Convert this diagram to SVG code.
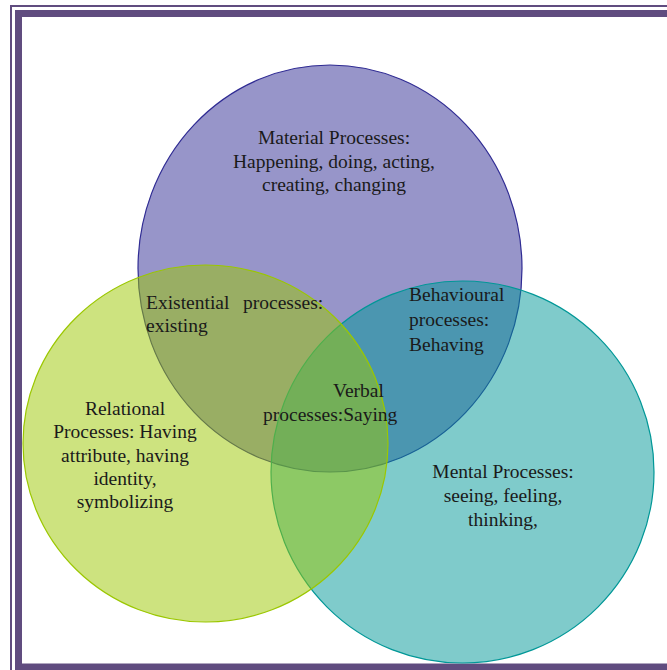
<svg xmlns="http://www.w3.org/2000/svg" width="667" height="670" viewBox="0 0 667 670">
<style>
  .lbl { font-family: "Liberation Serif", "Times New Roman", serif; font-size: 19.5px; fill: #1a1a1a; }
  .mid { text-anchor: middle; }
  .set { fill-opacity: 0.5; stroke-width: 1.2; }
</style>
<rect width="667" height="670" fill="#ffffff"/>
<g id="frame" fill="none" stroke="#604c7f">
  <rect x="11" y="6" width="700" height="700" stroke-width="2"/>
  <rect x="18.5" y="13.5" width="700" height="653.5" stroke-width="7"/>
</g>
<g id="material">
  <ellipse class="set" cx="330" cy="268.5" rx="192" ry="203.5" fill="#2f2b93" stroke="#2f2b93"/>
</g>
<g id="mental">
  <ellipse class="set" cx="462.5" cy="472" rx="191.5" ry="191" fill="#009797" stroke="#009797"/>
</g>
<g id="relational">
  <ellipse class="set" cx="205.5" cy="443.5" rx="182.5" ry="178.5" fill="#9bc700" stroke="#9bc700"/>
</g>
<g id="labels">
  <g id="material-label" class="lbl mid">
    <text x="334" y="144">Material Processes:</text>
    <text x="334" y="167.5">Happening, doing, acting,</text>
    <text x="334" y="191">creating, changing</text>
  </g>
  <g id="existential-label" class="lbl">
    <text x="146" y="309">Existential<tspan x="243">processes:</tspan></text>
    <text x="146" y="332">existing</text>
  </g>
  <g id="behavioural-label" class="lbl">
    <text x="409" y="301">Behavioural</text>
    <text x="409" y="326">processes:</text>
    <text x="409" y="351">Behaving</text>
  </g>
  <g id="verbal-label" class="lbl">
    <text x="333" y="397">Verbal</text>
    <text x="263" y="421">processes:Saying</text>
  </g>
  <g id="relational-label" class="lbl mid">
    <text x="125" y="415">Relational</text>
    <text x="125" y="438">Processes: Having</text>
    <text x="125" y="462">attribute, having</text>
    <text x="125" y="485">identity,</text>
    <text x="125" y="508">symbolizing</text>
  </g>
  <g id="mental-label" class="lbl mid">
    <text x="503" y="478">Mental Processes:</text>
    <text x="503" y="502">seeing, feeling,</text>
    <text x="503" y="526">thinking,</text>
  </g>
</g>
</svg>
